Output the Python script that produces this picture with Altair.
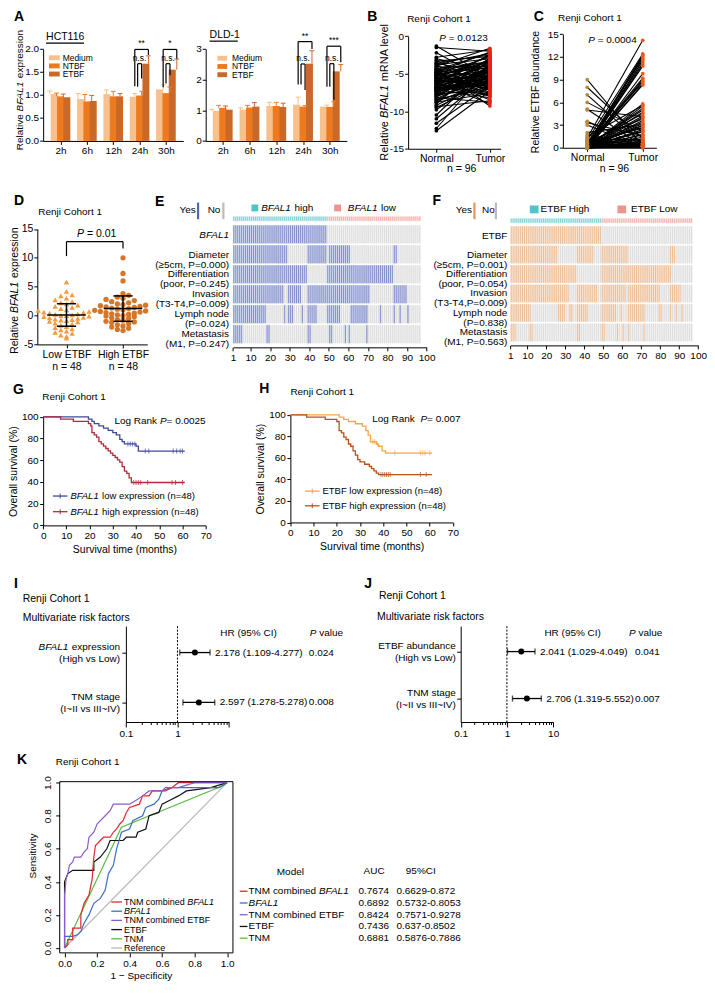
import altair as alt
import pandas as pd

FONT = "Liberation Sans"
SX, SY = 0.975, 0.98


def px(x):
    return round((x - 2.0) * SX, 2)


def py(y):
    return round((y - 2.0) * SY, 2)


W_TOT = px(712)
H_TOT = py(996)
ONE = pd.DataFrame({"z": [0]})

# ------------------------------------------------------------------ DATA
# Panel A
times = ["2h", "6h", "12h", "24h", "30h"]
groups = ["Medium", "NTBF", "ETBF"]
hct_medium = [1.02, 0.91, 1.02, 0.96, 1.12]
hct_ntbf = [0.97, 0.86, 0.97, 0.99, 1.04]
hct_etbf = [0.95, 0.87, 0.97, 1.68, 1.55]
hct_medium_err = [0.07, 0.12, 0.09, 0.07, 0.10]
hct_ntbf_err = [0.07, 0.15, 0.11, 0.09, 0.13]
hct_etbf_err = [0.07, 0.12, 0.06, 0.17, 0.23]
dld_medium = [0.98, 1.02, 1.14, 1.18, 1.12]
dld_ntbf = [1.08, 1.09, 1.14, 1.12, 1.11]
dld_etbf = [1.02, 1.12, 1.11, 2.52, 2.27]
dld_medium_err = [0.05, 0.06, 0.12, 0.25, 0.05]
dld_ntbf_err = [0.08, 0.07, 0.12, 0.03, 0.17]
dld_etbf_err = [0.12, 0.13, 0.12, 0.42, 0.22]
hct_br_time = [3, 3, 4, 4]
hct_br_pair = ["outer", "inner", "outer", "inner"]
hct_br_top = [1.99, 1.68, 1.99, 1.68]
hct_br_lbot = [1.19, 1.18, 1.17, 1.25]
hct_br_rbot = [1.87, 1.36, 1.79, 1.43]
hct_br_lab = ["**", "n.s.", "*", "n.s."]
dld_br_time = [3, 3, 4, 4]
dld_br_pair = ["outer", "inner", "outer", "inner"]
dld_br_top = [3.24, 2.51, 3.09, 2.52]
dld_br_lbot = [1.84, 1.84, 1.77, 1.77]
dld_br_rbot = [3.0, 1.66, 2.57, 1.34]
dld_br_lab = ["**", "n.s.", "***", "n.s."]

# Panel B (paired normal / tumor)
b_normal = [-1.3, -1.5, -2.2, -2.8, -3.0, -3.2, -3.5, -3.6, -3.8, -3.9, -4.0, -4.1,
            -4.2, -4.3, -4.4, -4.5, -4.6, -4.7, -4.8, -4.9, -5.0, -5.0, -5.1, -5.2,
            -5.3, -5.4, -5.5, -5.5, -5.6, -5.7, -5.8, -5.9, -6.0, -6.0, -6.1, -6.2,
            -6.3, -6.4, -6.5, -6.5, -6.6, -6.7, -6.8, -6.9, -7.0, -7.0, -7.1, -7.2,
            -7.3, -7.4, -7.5, -7.6, -7.7, -7.8, -7.9, -8.0, -8.1, -8.2, -8.3, -8.5,
            -8.6, -8.8, -9.0, -9.2, -9.5, -9.8, -10.5, -11.0, -11.6, -12.3, -12.6, -4.8,
            -5.2, -5.6, -6.2, -6.8, -7.2, -4.4, -3.3, -6.6, -7.8, -5.9, -4.6, -8.4,
            -6.0, -5.4, -7.4, -3.7, -4.9, -6.9, -5.1, -8.7, -9.4, -6.3, -5.7, -7.0]
b_tumor = [-5.5, -2.0, -6.0, -1.8, -4.5, -7.0, -2.5, -5.0, -3.0, -6.5, -1.6, -4.0,
           -7.5, -3.5, -6.0, -2.2, -5.5, -8.0, -3.8, -6.2, -4.2, -2.8, -7.2, -5.0,
           -3.3, -6.8, -4.6, -8.5, -2.6, -5.2, -7.0, -4.0, -6.4, -3.2, -5.8, -9.0,
           -4.8, -2.4, -6.6, -5.4, -3.6, -7.8, -4.4, -6.0, -3.0, -5.6, -8.2, -4.1,
           -6.3, -3.4, -5.1, -7.4, -2.9, -6.9, -4.7, -5.9, -3.9, -8.8, -5.3, -6.7,
           -4.3, -7.6, -3.1, -5.7, -6.1, -4.9, -3.7, -5.0, -6.6, -4.0, -7.3, -2.1,
           -3.5, -6.2, -8.0, -4.5, -5.5, -9.3, -2.7, -6.8, -4.2, -5.8, -3.3, -7.0,
           -5.2, -6.4, -4.6, -2.3, -7.7, -5.6, -3.9, -6.0, -8.6, -4.8, -5.4, -6.5]

# Panel C (paired ETBF abundance)
c_normal = [9.0, 8.0, 7.0, 6.0, 5.1, 5.0, 3.5, 3.3, 3.0, 2.0, 1.7, 1.5,
            1.3, 1.2, 1.0, 0.9, 0.8, 0.8, 0.7, 0.6, 0.6, 0.5, 0.5, 0.4,
            0.4, 0.4, 0.3, 0.3, 0.3, 0.3, 0.2, 0.2, 0.2, 0.2, 0.2, 0.2,
            0.1, 0.1, 0.1, 0.1, 0.1, 0.1, 0.1, 0.1, 0.1, 0.1, 0.1, 0.1,
            0.1, 0.1, 0.1, 0.1, 0.1, 0.1, 0.05, 0.05, 0.05, 0.05, 0.05, 0.05,
            0.0, 0.0, 0.0, 0.0, 0.0, 0.0, 0.0, 0.0, 0.0, 0.0, 0.0, 0.0,
            0.0, 0.0, 0.0, 0.0, 0.0, 0.0, 0.0, 0.0, 0.0, 0.0, 0.0, 0.0,
            0.6, 0.9, 1.1, 0.3, 0.2, 0.0, 0.0, 0.4, 0.1, 0.0, 0.7, 0.0]
c_tumor = [0.3, 1.2, 0.5, 2.2, 0.2, 4.1, 0.1, 1.6, 0.0, 3.1, 0.4, 5.6,
           14.2, 0.2, 12.4, 0.5, 3.8, 0.1, 2.6, 11.8, 0.3, 1.0, 4.5, 0.2,
           12.2, 0.4, 0.6, 9.2, 0.3, 2.1, 0.2, 11.2, 0.5, 1.4, 5.0, 0.1,
           12.0, 0.8, 0.3, 8.8, 1.7, 0.2, 4.2, 0.4, 11.5, 0.3, 2.9, 0.6,
           10.8, 0.2, 3.4, 0.5, 9.0, 0.1, 1.2, 5.8, 0.3, 0.7, 8.4, 0.2,
           11.0, 0.4, 2.4, 0.1, 4.7, 0.6, 8.3, 0.2, 3.0, 0.5, 12.3, 0.3,
           5.5, 0.2, 1.8, 0.4, 3.6, 0.1, 9.8, 0.3, 2.2, 0.6, 4.0, 0.2,
           8.6, 0.5, 1.1, 0.3, 5.2, 0.2, 0.9, 2.7, 0.4, 11.6, 0.1, 3.2]

# Panel D
d_low = [5.8, 4.2, 3.6, 3.4, 3.0, 2.7, 2.4, 2.2, 2.0, 1.8, 1.6, 1.4, 1.2, 1.0, 0.9, 0.7,
         0.6, 0.5, 0.4, 0.3, 0.2, 0.1, 0.0, 0.0, -0.1, -0.2, -0.3, -0.4, -0.5, -0.6, -0.7, -0.8,
         -0.9, -1.0, -1.1, -1.3, -1.5, -1.7, -1.9, -2.1, -2.3, -2.5, -2.7, -2.9, -3.1, -3.4, -3.6, -3.9]
d_high = [10.0, 7.3, 6.0, 3.8, 3.5, 3.2, 3.0, 2.8, 2.6, 2.4, 2.2, 2.0, 1.9, 1.8, 1.6, 1.5,
          1.4, 1.3, 1.2, 1.1, 1.0, 0.9, 0.8, 0.7, 0.6, 0.5, 0.4, 0.3, 0.2, 0.1, 0.0, -0.1,
          -0.2, -0.4, -0.5, -0.7, -0.8, -1.0, -1.1, -1.2, -1.4, -1.6, -1.8, -2.0, -2.2, -2.4, -2.6, 1.7]
d_mean = [0.1, 1.2]
d_sd = [1.95, 2.2]

# Panel E / F (runs of "Yes" columns per clinical feature)
e_rows = ["BFAL1", "Diameter", "Differentiation", "Invasion", "Lymph node", "Metastasis"]
e_labels = ["BFAL1", "Diameter\n(\u22655cm, P=0.000)", "Differentiation\n(poor, P=0.245)",
            "Invasion\n(T3-T4,P=0.009)", "Lymph node\n(P=0.024)", "Metastasis\n(M1, P=0.247)"]
e_bfal1_yes = [(1, 48)]
e_diameter_yes = [(1, 28), (39, 48), (50, 60), (83, 84)]
e_diff_yes = [(1, 38), (49, 82)]
e_invasion_yes = [(1, 26), (29, 35), (39, 48), (49, 70), (83, 89)]
e_lymph_yes = [(1, 17), (27, 27), (29, 31), (36, 36), (39, 43), (49, 55), (61, 69), (76, 76),
               (83, 83), (86, 86), (90, 90)]
e_meta_yes = [(1, 5), (18, 19), (39, 40), (50, 51), (58, 58), (60, 60), (69, 69)]
f_rows = ["ETBF", "Diameter", "Differentiation", "Invasion", "Lymph node", "Metastasis"]
f_labels = ["ETBF", "Diameter\n(\u22655cm, P=0.001)", "Differentiation\n(poor, P=0.054)",
            "Invasion\n(T3-T4,P=0.009)", "Lymph node\n(P=0.838)", "Metastasis\n(M1, P=0.563)"]
f_etbf_yes = [(1, 48)]
f_diameter_yes = [(1, 25), (36, 44), (49, 62), (85, 87)]
f_diff_yes = [(1, 35), (49, 85)]
f_invasion_yes = [(1, 31), (36, 46), (49, 61), (63, 79), (85, 90)]
f_lymph_yes = [(1, 11), (26, 29), (32, 33), (36, 41), (49, 56), (59, 59), (63, 71), (79, 80),
               (85, 85), (88, 88), (91, 91)]
f_meta_yes = [(1, 3), (11, 12), (36, 37), (49, 50), (57, 57), (60, 60), (63, 63), (71, 71)]
n_patients = 96
n_high = 48

# Panel G / H (Kaplan-Meier)
g_low_t = [0, 19.5, 21, 22, 24, 26, 28, 30, 31.5, 33, 34, 35, 40, 41, 61]
g_low_s = [100, 97.9, 95.8, 93.8, 91.7, 89.6, 87.5, 85.4, 83.3, 79.2, 77.1, 75.0, 72.9, 68.4, 68.4]
g_high_t = [0, 7.5, 13, 19.5, 20.5, 21, 22, 23, 24, 25, 26, 27, 28, 29, 30, 31, 32, 33, 34, 35, 36, 37, 38, 61]
g_high_s = [100, 97.9, 95.8, 93.8, 91.7, 85.4, 83.3, 81.2, 77.1, 75.0, 72.9, 70.8, 68.7, 66.6, 64.5,
            62.5, 60.4, 58.3, 54.1, 50.0, 47.9, 43.7, 39.5, 39.5]
g_low_cens_t = [36.5, 37.5, 38.5, 39.5, 44, 45.5, 56, 57.5, 59, 60]
g_low_cens_s = [75.0, 75.0, 75.0, 75.0, 68.4, 68.4, 68.4, 68.4, 68.4, 68.4]
g_high_cens_t = [39, 40, 41, 42, 45, 55.5, 57, 60]
g_high_cens_s = [39.5, 39.5, 39.5, 39.5, 39.5, 39.5, 39.5, 39.5]
h_low_t = [0, 21, 23, 25, 28, 31, 32.5, 33.5, 34.5, 37, 38, 39.5, 41, 61]
h_low_s = [100, 97.9, 95.8, 93.8, 91.7, 89.6, 85.4, 81.2, 75.0, 72.9, 70.8, 66.6, 64.5, 64.5]
h_high_t = [0, 7, 15, 20, 21, 22, 23, 24, 25, 26, 27, 28, 29, 30, 32, 34, 35, 36, 37, 38, 61]
h_high_s = [100, 97.9, 95.8, 93.8, 85.4, 83.3, 79.2, 77.1, 72.9, 70.8, 66.6, 62.5, 58.3, 56.2,
            54.1, 52.0, 50.0, 47.9, 45.8, 44.5, 44.5]
h_low_cens_t = [35.5, 36.2, 37.5, 45, 56, 57, 58, 60]
h_low_cens_s = [75.0, 75.0, 72.9, 64.5, 64.5, 64.5, 64.5, 64.5]
h_high_cens_t = [39, 39.8, 40.6, 41.4, 42.2, 43, 56, 58.5]
h_high_cens_s = [44.5, 44.5, 44.5, 44.5, 44.5, 44.5, 44.5, 44.5]

# Panel I / J (multivariate Cox)
i_rows = ["BFAL1 expression", "TNM stage"]
i_hr = [2.178, 2.597]
i_lo = [1.109, 1.278]
i_hi = [4.277, 5.278]
i_txt = ["2.178 (1.109-4.277)", "2.597 (1.278-5.278)"]
i_p = ["0.024", "0.008"]
j_rows = ["ETBF abundance", "TNM stage"]
j_hr = [2.041, 2.706]
j_lo = [1.029, 1.319]
j_hi = [4.049, 5.552]
j_txt = ["2.041  (1.029-4.049)", "2.706 (1.319-5.552)"]
j_p = ["0.041", "0.007"]

# Panel K (ROC)
roc_models = ["Reference", "TNM", "ETBF", "BFAL1", "TNM combined BFAL1", "TNM combined ETBF"]
roc_red_fpr = [0, 0.02, 0.02, 0.05, 0.05, 0.1, 0.1, 0.12, 0.15, 0.17, 0.18, 0.19, 0.22, 0.24, 0.28,
               0.3, 0.32, 0.34, 0.36, 0.38, 0.4, 0.46, 0.48, 0.52, 0.54, 0.62, 0.66, 0.7, 1.0]
roc_red_tpr = [0, 0.02, 0.05, 0.05, 0.12, 0.12, 0.2, 0.27, 0.32, 0.42, 0.55, 0.62, 0.65, 0.67, 0.67,
               0.7, 0.72, 0.75, 0.77, 0.82, 0.85, 0.87, 0.92, 0.92, 0.95, 0.95, 0.97, 1.0, 1.0]
roc_blue_fpr = [0, 0, 0.05, 0.08, 0.1, 0.12, 0.15, 0.18, 0.22, 0.25, 0.27, 0.3, 0.32, 0.35, 0.4, 0.42,
                0.48, 0.5, 0.55, 0.58, 0.6, 0.65, 0.95, 1.0]
roc_blue_tpr = [0, 0.07, 0.07, 0.08, 0.1, 0.15, 0.2, 0.27, 0.3, 0.35, 0.45, 0.5, 0.6, 0.7, 0.72, 0.77,
                0.8, 0.85, 0.87, 0.9, 0.95, 0.97, 0.97, 1.0]
roc_purple_fpr = [0, 0, 0.01, 0.02, 0.03, 0.05, 0.06, 0.1, 0.12, 0.14, 0.15, 0.18, 0.2, 0.22, 0.25,
                  0.28, 0.3, 0.4, 0.45, 0.48, 0.52, 0.6, 0.62, 0.7, 0.8, 1.0]
roc_purple_tpr = [0, 0.32, 0.42, 0.45, 0.5, 0.52, 0.55, 0.55, 0.58, 0.6, 0.67, 0.7, 0.75, 0.77, 0.8,
                  0.83, 0.87, 0.87, 0.9, 0.92, 0.95, 0.95, 0.97, 0.97, 1.0, 1.0]
roc_black_fpr = [0, 0, 0.02, 0.05, 0.18, 0.18, 0.22, 0.26, 0.28, 0.36, 0.38, 0.44, 0.45, 0.5, 0.52,
                 0.58, 0.6, 0.66, 0.7, 0.75, 0.9, 1.0]
roc_black_tpr = [0, 0.4, 0.45, 0.47, 0.47, 0.52, 0.55, 0.6, 0.65, 0.65, 0.67, 0.67, 0.7, 0.72, 0.8,
                 0.82, 0.87, 0.9, 0.92, 0.95, 0.97, 1.0]
roc_green_fpr = [0, 0.35, 0.97, 1.0]
roc_green_tpr = [0, 0.73, 0.98, 1.0]
roc_ref_fpr = [0, 1]
roc_ref_tpr = [0, 1]
auc_models = ["TNM combined BFAL1", "BFAL1", "TNM combined ETBF", "ETBF", "TNM"]
auc_values = ["0.7674", "0.6892", "0.8424", "0.7436", "0.6881"]
auc_ci = ["0.6629-0.872", "0.5732-0.8053", "0.7571-0.9278", "0.637-0.8502", "0.5876-0.7886"]

# ------------------------------------------------------------------ HELPERS
_W = {c: 556 for c in "0123456789"}
_W.update({" ": 278, "!": 278, "(": 333, ")": 333, ",": 278, "-": 333, ".": 278, "/": 278,
           ":": 278, "=": 584, "%": 889, "~": 584, "\u2265": 549, "*": 389, "\u2212": 584})
_W.update(dict(A=667, B=667, C=722, D=722, E=667, F=611, G=778, H=722, I=278, J=500, K=667, L=556,
               M=833, N=722, O=778, P=667, Q=778, R=722, S=667, T=611, U=722, V=667, W=944, X=667,
               Y=667, Z=611))
_W.update(dict(a=556, b=556, c=500, d=556, e=556, f=278, g=556, h=556, i=222, j=222, k=500, l=222,
               m=833, n=556, o=556, p=556, q=556, r=333, s=500, t=278, u=556, v=500, w=722, x=500,
               y=500, z=500))


def tw(s, size):
    return sum(_W.get(c, 556) for c in s) * size / 1000.0


def T(s, x, y, size=10, align="left", baseline="middle", italic=False, bold=False, angle=None,
      color="black"):
    kw = dict(text=s, align=align, baseline=baseline, fontSize=size, font=FONT, color=color)
    if italic:
        kw["fontStyle"] = "italic"
    if bold:
        kw["fontWeight"] = "bold"
    if angle is not None:
        kw["angle"] = angle
    return alt.Chart(ONE).mark_text(**kw).encode(x=alt.value(px(x)), y=alt.value(py(y)))


def RT(parts, x, y, size=10, align="left", baseline="middle", vertical=False):
    total = sum(tw(s, size) for s, _ in parts)
    pos = {"left": 0.0, "center": -total / 2.0, "right": -total}[align]
    out = []
    for s, it in parts:
        lead = len(s) - len(s.lstrip(" "))
        body = s.strip(" ")
        o = pos + tw(" " * lead, size)
        if body:
            if vertical:
                out.append(T(body, x, y - o / SY, size, "left", baseline, it, angle=270))
            else:
                out.append(T(body, x + o / SX, y, size, "left", baseline, it))
        pos += tw(s, size)
    return out


def RL(x1, y1, x2, y2, color="black", w=1.0, dash=None):
    kw = dict(color=color, strokeWidth=w)
    if dash:
        kw["strokeDash"] = dash
    return alt.Chart(ONE).mark_rule(**kw).encode(
        x=alt.value(px(x1)), y=alt.value(py(y1)), x2=alt.value(px(x2)), y2=alt.value(py(y2)))


def BX(x1, y1, x2, y2, fill=None, stroke="black", w=1.0):
    if fill is not None:
        m = alt.Chart(ONE).mark_rect(color=fill)
    else:
        m = alt.Chart(ONE).mark_rect(filled=False, stroke=stroke, strokeWidth=w)
    return m.encode(x=alt.value(px(x1)), x2=alt.value(px(x2)), y=alt.value(py(y1)), y2=alt.value(py(y2)))


def AX_L(xref, **kw):
    kw.setdefault("title", None)
    return alt.Axis(orient="left", offset=-px(xref), **kw)


def AX_B(yref, **kw):
    kw.setdefault("title", None)
    return alt.Axis(orient="bottom", offset=round(py(yref) - H_TOT, 2), **kw)


def SXc(domain, x0, x1):
    return alt.Scale(domain=domain, range=[px(x0), px(x1)], nice=False, zero=False)


def SYc(domain, yb, yt):
    return alt.Scale(domain=domain, range=[py(yb), py(yt)], nice=False, zero=False)


LAYERS = []


def add(*items):
    for it in items:
        if isinstance(it, list):
            LAYERS.extend(it)
        else:
            LAYERS.append(it)


# ------------------------------------------------------------------ PANEL A
OFF = {"Medium": -0.24, "NTBF": 0.0, "ETBF": 0.24}
GCOL = ["#F7C08C", "#EE7A20", "#C8692A"]


def bar_panel(means, errs, br, x0, x1, dom, ymax, yvals, yfmt):
    recs = []
    for g, m, e in zip(groups, means, errs):
        for i in range(len(times)):
            xp = i + OFF[g]
            recs.append(dict(group=g, xp=xp, mean=m[i], top=m[i] + e[i], cl=xp - 0.085, cr=xp + 0.085))
    df = pd.DataFrame(recs)
    xsc = SXc(dom, x0, x1)
    ysc = SYc([0, ymax], 137, 43)
    col = alt.Color("group:N", scale=alt.Scale(domain=groups, range=GCOL), legend=None)
    bars = alt.Chart(df).mark_bar(size=7).encode(
        x=alt.X("xp:Q", scale=xsc, axis=AX_B(137, values=[0, 1, 2, 3, 4],
                                              labelExpr="['2h','6h','12h','24h','30h'][datum.value]")),
        y=alt.Y("mean:Q", scale=ysc, axis=AX_L(x0, values=yvals, format=yfmt, labelPadding=1)),
        color=col)
    err = alt.Chart(df).mark_rule(strokeWidth=1).encode(
        x=alt.X("xp:Q", scale=xsc, axis=None), y=alt.Y("mean:Q", scale=ysc, axis=None), y2="top:Q", color=col)
    cap = alt.Chart(df).mark_rule(strokeWidth=1).encode(
        x=alt.X("cl:Q", scale=xsc, axis=None), x2="cr:Q", y=alt.Y("top:Q", scale=ysc, axis=None), color=col)
    segs, labs = [], []
    for t, pair, top, lb, rb, lab in zip(*br):
        if pair == "outer":
            xl, xr = t + OFF["Medium"], t + OFF["ETBF"]
        else:
            xl, xr = t + OFF["Medium"] + 0.1, t + OFF["NTBF"]
        segs += [dict(x=xl, x2=xr, y=top, y2=top), dict(x=xl, x2=xl, y=lb, y2=top),
                 dict(x=xr, x2=xr, y=rb, y2=top)]
        labs.append(dict(x=(xl + xr) / 2.0, y=top, lab=lab))
    brr = alt.Chart(pd.DataFrame(segs)).mark_rule(color="black", strokeWidth=1.2).encode(
        x=alt.X("x:Q", scale=xsc, axis=None), x2="x2:Q", y=alt.Y("y:Q", scale=ysc, axis=None), y2="y2:Q")
    brt = alt.Chart(pd.DataFrame(labs)).mark_text(baseline="bottom", dy=-1, fontSize=8.5, font=FONT).encode(
        x=alt.X("x:Q", scale=xsc, axis=None), y=alt.Y("y:Q", scale=ysc, axis=None), text="lab:N")
    return [bars, err, cap, brr, brt]


add(bar_panel([hct_medium, hct_ntbf, hct_etbf], [hct_medium_err, hct_ntbf_err, hct_etbf_err],
              (hct_br_time, hct_br_pair, hct_br_top, hct_br_lbot, hct_br_rbot, hct_br_lab),
              33, 177, [-0.47, 4.47], 2.0, [0, 0.5, 1, 1.5, 2], ".1f"))
add(bar_panel([dld_medium, dld_ntbf, dld_etbf], [dld_medium_err, dld_ntbf_err, dld_etbf_err],
              (dld_br_time, dld_br_pair, dld_br_top, dld_br_lbot, dld_br_rbot, dld_br_lab),
              200, 345, [-0.45, 4.45], 3.0, [0, 1, 2, 3], "d"))
add(T("A", 3, 10, 14, bold=True))
add(RT([("Relative ", False), ("BFAL1", True), (" expression", False)], 9, 85, 10, "center",
       vertical=True))
add(T("HCT116", 36, 31, 10.5), RL(36, 37, 75, 37, w=1.2))
add(T("DLD-1", 204, 29, 10.5), RL(204, 35, 233, 35, w=1.2))
for i, (g, c) in enumerate(zip(groups, GCOL)):
    add(BX(39, 49.5 + 8.3 * i, 50, 54.5 + 8.3 * i, fill=c), T(g, 53, 52 + 8.3 * i, 8.5))
    add(BX(212, 50 + 8.4 * i, 222, 55 + 8.4 * i, fill=c), T(g, 227, 52.5 + 8.4 * i, 8.5))


# ------------------------------------------------------------------ PANEL B / C
def paired_panel(nv, tv, x0, x1, dom, ydom, yb, yt, yvals, ncol, tcol):
    recs = []
    for i, (a, b) in enumerate(zip(nv, tv)):
        recs.append(dict(pid=i, c=0, g="Normal", v=a))
        recs.append(dict(pid=i, c=1, g="Tumor", v=b))
    df = pd.DataFrame(recs)
    xsc = SXc(dom, x0, x1)
    ysc = SYc(ydom, yb, yt)
    lines = alt.Chart(df).mark_line(color="black", strokeWidth=1.1).encode(
        x=alt.X("c:Q", scale=xsc, axis=AX_B(yb, values=[0, 1], labelFontSize=10.5,
                                             labelExpr="datum.value == 0 ? 'Normal' : 'Tumor'")),
        y=alt.Y("v:Q", scale=ysc, axis=AX_L(x0, values=yvals, labelExpr="'' + datum.value", labelPadding=1)),
        detail="pid:N")
    pts = alt.Chart(df).mark_circle(size=14, opacity=1).encode(
        x=alt.X("c:Q", scale=xsc, axis=None), y=alt.Y("v:Q", scale=ysc, axis=None),
        color=alt.Color("g:N", scale=alt.Scale(domain=["Normal", "Tumor"], range=[ncol, tcol]), legend=None))
    return [lines, pts]


add(paired_panel(b_normal, b_tumor, 408, 503, [-0.527, 1.2], [-15, 0], 145, 30, [0, -5, -10, -15],
                 "black", "#E3241B"))
add(T("B", 366, 10, 14, bold=True), T("Renji Cohort 1", 407, 12, 10))
add(RT([("P", True), (" = 0.0123", False)], 440, 32, 10))
add(T("n = 96", 463, 166, 10.5, "center"))
add(RT([("Relative ", False), ("BFAL1", True), (" mRNA level", False)], 384, 87, 11, "center", vertical=True))

add(paired_panel(c_normal, c_tumor, 567, 663, [-0.438, 1.245], [0, 15], 144, 28, [0, 3, 6, 9, 12, 15],
                 "#B8893E", "#EA5A1E"))
add(T("C", 537, 10, 14, bold=True), T("Renji Cohort 1", 562, 11, 10))
add(RT([("P", True), (" = 0.0004", False)], 593, 34, 10))
add(T("n = 96", 620, 166, 10.5, "center"))
add(T("Relative ETBF abundance", 539, 87, 10.5, "center", angle=270))

# ------------------------------------------------------------------ PANEL D
d_df = pd.DataFrame({"grp": ["Low"] * len(d_low) + ["High"] * len(d_high),
                     "gi": [0] * len(d_low) + [1] * len(d_high),
                     "v": d_low + d_high})
dxs = SXc([-0.516, 1.43], 27, 140)
dys = SYc([-5, 15], 345, 227)
d_base = (alt.Chart(d_df)
          .transform_calculate(b="floor(datum.v / 0.95)")
          .transform_window(k="row_number()", groupby=["grp", "b"], sort=[alt.SortField("v")])
          .transform_calculate(xp="datum.gi + ((datum.k - 1) % 2 == 0 ? 1 : -1) * ceil((datum.k - 1) / 2) * 0.1"))
d_tri = d_base.transform_filter("datum.grp == 'Low'").mark_point(
    shape="triangle-up", filled=True, size=30, color="#F29B3F", opacity=1).encode(
    x=alt.X("xp:Q", scale=dxs, axis=AX_B(345, values=[0, 1], labelLineHeight=12, labelFontSize=10.5,
                                          labelExpr="datum.value == 0 ? ['Low ETBF', 'n = 48'] : ['High ETBF', 'n = 48']")),
    y=alt.Y("v:Q", scale=dys, axis=AX_L(27, values=[-5, 0, 5, 10, 15], labelFontSize=10.5, labelPadding=1,
                                         labelExpr="'' + datum.value")))
d_cir = d_base.transform_filter("datum.grp == 'High'").mark_circle(size=28, color="#D4772B", opacity=1).encode(
    x=alt.X("xp:Q", scale=dxs, axis=None), y=alt.Y("v:Q", scale=dys, axis=None))
d_sum = pd.DataFrame({"gi": [0, 1], "m": d_mean, "sd": d_sd})
d_sb = alt.Chart(d_sum).transform_calculate(
    lo="datum.m - datum.sd", hi="datum.m + datum.sd", ml="datum.gi - 0.34", mr="datum.gi + 0.34",
    sl="datum.gi - 0.17", sr="datum.gi + 0.17")
d_mean_l = d_sb.mark_rule(color="black", strokeWidth=1.5).encode(
    x=alt.X("ml:Q", scale=dxs, axis=None), x2="mr:Q", y=alt.Y("m:Q", scale=dys, axis=None))
d_lo_l = d_sb.mark_rule(color="black", strokeWidth=1.5).encode(
    x=alt.X("sl:Q", scale=dxs, axis=None), x2="sr:Q", y=alt.Y("lo:Q", scale=dys, axis=None))
d_hi_l = d_sb.mark_rule(color="black", strokeWidth=1.5).encode(
    x=alt.X("sl:Q", scale=dxs, axis=None), x2="sr:Q", y=alt.Y("hi:Q", scale=dys, axis=None))
d_v_l = d_sb.mark_rule(color="black", strokeWidth=1.5).encode(
    x=alt.X("gi:Q", scale=dxs, axis=None), y=alt.Y("lo:Q", scale=dys, axis=None), y2="hi:Q")
d_br = pd.DataFrame({"x": [0, 0, 1], "x2": [1, 0, 1], "y": [12.8, 10.3, 11.6], "y2": [12.8, 12.8, 12.8]})
d_brl = alt.Chart(d_br).mark_rule(color="black", strokeWidth=1.2).encode(
    x=alt.X("x:Q", scale=dxs, axis=None), x2="x2:Q", y=alt.Y("y:Q", scale=dys, axis=None), y2="y2:Q")
add([d_tri, d_cir, d_mean_l, d_lo_l, d_hi_l, d_v_l, d_brl])
add(T("D", 3, 198, 14, bold=True), T("Renji Cohort 1", 28, 210, 10))
add(RT([("P", True), (" = 0.01", False)], 88, 232, 10.5, "center"))
add(RT([("Relative ", False), ("BFAL1", True), (" expression", False)], 4, 290, 10.5, "center", vertical=True))


# ------------------------------------------------------------------ PANEL E / F
def heat_panel(rows, labels, runs, yescol, x1r, x100r, ytop, ybot, axis_y, lab_x, italic_first,
               band_y, band_cols):
    recs = []
    for r, rr in zip(rows, runs):
        for c in range(1, n_patients + 1):
            yes = any(a <= c <= b for a, b in rr)
            recs.append(dict(row=r, c=c, c2=c + 1, v="Yes" if yes else "No"))
    df = pd.DataFrame(recs)
    xsc = SXc([1, 100], x1r, x100r)
    ysc = alt.Scale(domain=rows, range=[py(ytop), py(ybot)], paddingInner=0.07, paddingOuter=0.0)
    heat = alt.Chart(df).mark_rect(stroke="white", strokeWidth=0.45).encode(
        x=alt.X("c:Q", scale=xsc, axis=AX_B(axis_y, values=[1, 10, 20, 30, 40, 50, 60, 70, 80, 90, 100])),
        x2="c2:Q",
        y=alt.Y("row:N", scale=ysc, axis=None),
        color=alt.Color("v:N", scale=alt.Scale(domain=["Yes", "No"], range=[yescol, "#DCDCDC"]), legend=None))
    ldf = pd.DataFrame(dict(row=rows, lab=labels))
    labs_rest = alt.Chart(ldf).transform_filter(f"datum.row != '{rows[0]}'").mark_text(
        align="right", baseline="middle", lineBreak="\n", lineHeight=10, fontSize=10, font=FONT).encode(
        x=alt.value(px(lab_x)), y=alt.Y("row:N", scale=ysc, axis=None), text="lab:N")
    labs_first = alt.Chart(ldf).transform_filter(f"datum.row == '{rows[0]}'").mark_text(
        align="right", baseline="middle", fontSize=10, font=FONT,
        fontStyle="italic" if italic_first else "normal").encode(
        x=alt.value(px(lab_x)), y=alt.Y("row:N", scale=ysc, axis=None), text="lab:N")
    bdf = pd.DataFrame(dict(c=list(range(1, n_patients + 1)), c2=list(range(2, n_patients + 2)),
                            g=["high"] * n_high + ["low"] * (n_patients - n_high)))
    band = alt.Chart(bdf).mark_rect(stroke="white", strokeWidth=0.45).encode(
        x=alt.X("c:Q", scale=xsc, axis=None), x2="c2:Q",
        y=alt.value(py(band_y[0])), y2=alt.value(py(band_y[1])),
        color=alt.Color("g:N", scale=alt.Scale(domain=["high", "low"], range=band_cols), legend=None))
    return [heat, labs_rest, labs_first, band]


E_BLUE = "#7F8DCC"
F_ORANGE = "#EDBA8F"
TEAL, PINK = "#4FC3CB", "#EE948F"
add(heat_panel(e_rows, e_labels, [e_bfal1_yes, e_diameter_yes, e_diff_yes, e_invasion_yes, e_lymph_yes, e_meta_yes],
               E_BLUE, 228, 427, 223, 344, 348, 224, True, (214, 219), ["#7DD0D6", "#F3B0AC"]))
add(heat_panel(f_rows, f_labels, [f_etbf_yes, f_diameter_yes, f_diff_yes, f_invasion_yes, f_lymph_yes, f_meta_yes],
               F_ORANGE, 513, 706, 224, 342, 346, 510, False, (216, 221), ["#7DD0D6", "#F3B0AC"]))
add(T("E", 148, 199, 14, bold=True), T("F", 433, 198, 14, bold=True))
add(T("Yes", 173, 208, 10), BX(191, 200, 193.3, 217, fill="#5566B8"),
    T("No", 202, 208, 10), BX(217, 200, 219.3, 217, fill="#BDBDBD"))
add(BX(247, 202, 254, 209, fill=TEAL), RT([("BFAL1", True), (" high", False)], 257, 206, 10))
add(BX(332, 202, 339, 209, fill=PINK), RT([("BFAL1", True), (" low", False)], 346, 206, 10))
add(T("Yes", 457, 208, 10), BX(475, 200, 477.3, 217, fill="#E09A5E"),
    T("No", 484, 208, 10), BX(497, 200, 499.3, 217, fill="#BDBDBD"))
add(BX(533, 203, 542, 211, fill=TEAL), T("ETBF High", 544, 207, 10))
add(BX(623, 203, 632, 211, fill=PINK), T("ETBF Low", 637, 207, 10))


# ------------------------------------------------------------------ PANEL G / H
def km_panel(curves, cens, names, colors, x0, x1, yb, yt):
    recs = []
    for nm, (ts, ss) in zip(names, curves):
        for i, (t, s) in enumerate(zip(ts, ss)):
            recs.append(dict(curve=nm, i=i, t=t, s=s))
    crecs = [dict(curve=nm, t=t, s=s) for nm, (ts, ss) in zip(names, cens) for t, s in zip(ts, ss)]
    xsc = SXc([0, 70], x0, x1)
    ysc = SYc([0, 100], yb, yt)
    col = alt.Color("curve:N", scale=alt.Scale(domain=names, range=colors), legend=None)
    line = alt.Chart(pd.DataFrame(recs)).mark_line(interpolate="step-after", strokeWidth=1.3).encode(
        x=alt.X("t:Q", scale=xsc, axis=AX_B(yb, values=list(range(0, 71, 10)),
                                             title="Survival time (months)", titlePadding=4)),
        y=alt.Y("s:Q", scale=ysc, axis=AX_L(x0, values=list(range(0, 101, 20)),
                                             title="Overall survival (%)", titlePadding=3)),
        color=col, order="i:Q")
    tick = alt.Chart(pd.DataFrame(crecs)).mark_tick(orient="vertical", size=5, thickness=1).encode(
        x=alt.X("t:Q", scale=xsc, axis=None), y=alt.Y("s:Q", scale=ysc, axis=None), color=col)
    return [line, tick]


G_BLUE, G_RED = "#3B4B9E", "#B3293A"
H_LOW, H_HIGH = "#F5A64C", "#B5521C"
add(km_panel([(g_low_t, g_low_s), (g_high_t, g_high_s)],
             [(g_low_cens_t, g_low_cens_s), (g_high_cens_t, g_high_cens_s)],
             ["low", "high"], [G_BLUE, G_RED], 33, 200, 530, 419))
add(km_panel([(h_low_t, h_low_s), (h_high_t, h_high_s)],
             [(h_low_cens_t, h_low_cens_s), (h_high_cens_t, h_high_cens_s)],
             ["low", "high"], [H_LOW, H_HIGH], 287, 454, 527, 417))
add(T("G", 2, 392, 14, bold=True), T("Renji Cohort 1", 32, 399, 10))
add(T("H", 255, 391, 14, bold=True), T("Renji Cohort 1", 287, 394, 10))
add(RT([("Log Rank ", False), ("P", True), ("= 0.0025", False)], 200, 423, 10, "right"))
add(RT([("Log Rank  ", False), ("P", True), ("= 0.007", False)], 462, 421, 10, "right"))
for yy, col, parts in [(500, G_BLUE, [("BFAL1", True), (" low  expression (n=48)", False)]),
                       (516, G_RED, [("BFAL1", True), (" high expression (n=48)", False)])]:
    add(RL(43, yy, 58, yy, color=col, w=1.3), RL(50.5, yy - 2.5, 50.5, yy + 2.5, color=col))
    add(RT(parts, 61, yy, 9.5))
for yy, col, s in [(495, H_LOW, "ETBF low  expression (n=48)"), (510, H_HIGH, "ETBF high expression (n=48)")]:
    add(RL(302, yy, 317, yy, color=col, w=1.3), RL(309.5, yy - 2.5, 309.5, yy + 2.5, color=col))
    add(T(s, 320, yy, 9.5))


# ------------------------------------------------------------------ PANEL I / J
MINOR = [0.2, 0.3, 0.4, 0.5, 0.6, 0.7, 0.8, 0.9, 2, 3, 4, 5, 6, 7, 8, 9]


def forest_panel(rows, hr, lo, hi, txt, pv, x01, x10, yt, yb, pad, al, show10, pvx):
    df = pd.DataFrame(dict(row=rows, hr=hr, lo=lo, hi=hi, t=txt, p=pv))
    xsc = alt.Scale(type="log", domain=[0.1, 10], range=[px(x01), px(x10)], nice=False)
    ysc = alt.Scale(type="point", domain=rows, range=[py(yt), py(yb)], padding=pad, align=al)
    lab = "datum.label" if show10 else "datum.value >= 10 ? '' : datum.label"
    ci = alt.Chart(df).mark_rule(strokeWidth=1.3, color="black").encode(
        x=alt.X("lo:Q", scale=xsc, axis=AX_B(yb, values=[0.1, 1, 10], labelExpr=lab, tickSize=5)),
        x2="hi:Q",
        y=alt.Y("row:N", scale=ysc, axis=AX_L(x01, labels=False, tickSize=4)))
    capl = alt.Chart(df).mark_tick(orient="vertical", size=6, thickness=1.3, color="black").encode(
        x=alt.X("lo:Q", scale=xsc, axis=None), y=alt.Y("row:N", scale=ysc, axis=None))
    caph = alt.Chart(df).mark_tick(orient="vertical", size=6, thickness=1.3, color="black").encode(
        x=alt.X("hi:Q", scale=xsc, axis=None), y=alt.Y("row:N", scale=ysc, axis=None))
    pt = alt.Chart(df).mark_circle(size=36, color="black", opacity=1).encode(
        x=alt.X("hr:Q", scale=xsc, axis=None), y=alt.Y("row:N", scale=ysc, axis=None))
    ref = alt.Chart(pd.DataFrame({"r": [1.0]})).mark_rule(strokeDash=[2, 1.5], strokeWidth=1, color="black").encode(
        x=alt.X("r:Q", scale=xsc, axis=None), y=alt.value(py(yt)), y2=alt.value(py(yb)))
    t1 = alt.Chart(df).mark_text(align="left", dx=5, fontSize=10, font=FONT).encode(
        x=alt.X("hi:Q", scale=xsc, axis=None), y=alt.Y("row:N", scale=ysc, axis=None), text="t:N")
    t2 = alt.Chart(df).mark_text(align="left", fontSize=10, font=FONT).encode(
        x=alt.value(px(pvx)), y=alt.Y("row:N", scale=ysc, axis=None), text="p:N")
    minor = alt.Chart(pd.DataFrame({"r": [1.0]})).mark_point(opacity=0).encode(
        x=alt.X("r:Q", scale=xsc, axis=AX_B(yb, values=MINOR, labels=False, domain=False, tickSize=2.5)))
    return [ci, capl, caph, pt, ref, t1, t2, minor]


add(forest_panel(i_rows, i_hr, i_lo, i_hi, i_txt, i_p, 118, 224, 633, 731, 0.4608, 0.5745, False, 306))
add(forest_panel(j_rows, j_hr, j_lo, j_hi, j_txt, j_p, 462, 557, 633, 731, 0.5208, 0.52, True, 641))
add(T("I", 3, 590, 14, bold=True), T("Renji Cohort 1", 12, 605, 10.5), T("Multivariate risk factors", 12, 625, 10.5))
add(T("HR  (95% CI)", 215, 640, 10), RT([("P", True), (" value", False)], 307, 640, 10))
add(RT([("BFAL1", True), (" expression", False)], 112, 654, 10, "right"),
    T("(High vs Low)", 112, 667, 10, "right"),
    T("TNM stage", 112, 705, 10, "right"), T("(I~II vs III~IV)", 112, 718, 10, "right"))
add(T("J", 363, 590, 14, bold=True), T("Renji Cohort 1", 378, 602, 10.5), T("Multivariate risk factors", 376, 624, 10.5))
add(T("HR  (95% CI)", 548, 640, 10), RT([("P", True), (" value", False)], 635, 640, 10))
add(T("ETBF abundance", 457, 653, 10, "right"), T("(High vs Low)", 457, 666, 10, "right"),
    T("TNM stage", 457, 701, 10, "right"), T("(I~II vs III~IV)", 457, 714, 10, "right"))

# ------------------------------------------------------------------ PANEL K
ROC_COL = {"Reference": "#B8B8B8", "TNM": "#5DBB46", "ETBF": "#111111", "BFAL1": "#3B6FC5",
           "TNM combined BFAL1": "#E0282E", "TNM combined ETBF": "#8C5CC8"}
roc_data = {"Reference": (roc_ref_fpr, roc_ref_tpr), "TNM": (roc_green_fpr, roc_green_tpr),
            "ETBF": (roc_black_fpr, roc_black_tpr), "BFAL1": (roc_blue_fpr, roc_blue_tpr),
            "TNM combined BFAL1": (roc_red_fpr, roc_red_tpr),
            "TNM combined ETBF": (roc_purple_fpr, roc_purple_tpr)}
krec = []
for m in roc_models:
    f, s = roc_data[m]
    for i, (a, b) in enumerate(zip(f, s)):
        krec.append(dict(m=m, i=i, f=a, s=b))
kxs = SXc([0, 1], 55, 222)
kys = SYc([0, 1], 962, 793)
k_ticks = [0, 0.2, 0.4, 0.6, 0.8, 1.0]
k_lines = alt.Chart(pd.DataFrame(krec)).mark_line(strokeWidth=1.2).encode(
    x=alt.X("f:Q", scale=kxs, axis=AX_B(967, values=k_ticks, format=".1f", domain=False, tickSize=4,
                                         labelPadding=2)),
    y=alt.Y("s:Q", scale=kys, axis=AX_L(50, values=k_ticks, format=".1f", domain=False, labelAngle=270,
                                         labelAlign="center", labelBaseline="bottom", labelPadding=3,
                                         tickSize=4)),
    color=alt.Color("m:N", scale=alt.Scale(domain=roc_models, range=[ROC_COL[m] for m in roc_models]),
                    legend=None),
    detail="m:N", order="i:Q")
add(k_lines, BX(50, 792, 228, 967, stroke="black", w=1))
add(T("K", 6, 770, 14, bold=True), T("Renji Cohort 1", 46, 772, 10))
add(T("1 \u2212 Specificity", 134, 991, 10, "center"), T("Sensitivity", 23, 868, 10, "center", angle=270))
leg_items = [("TNM combined BFAL1", [("TNM combined ", False), ("BFAL1", True)]),
             ("BFAL1", [("BFAL1", True)]),
             ("TNM combined ETBF", [("TNM combined ETBF", False)]),
             ("ETBF", [("ETBF", False)]),
             ("TNM", [("TNM", False)]),
             ("Reference", [("Reference", False)])]
for i, (m, parts) in enumerate(leg_items):
    yy = 915 + 9.4 * i
    add(RL(103, yy, 114, yy, color=ROC_COL[m], w=1.3), RT(parts, 116, yy, 9))
add(T("Model", 287, 884, 10, "center"), T("AUC", 373, 883, 10, "center"), T("95%CI", 421, 883, 10, "center"))
for i, m in enumerate(auc_models):
    yy = 904 + 12 * i
    parts = dict(leg_items)[m]
    add(RL(235, yy, 243, yy, color=ROC_COL[m], w=1.3), RT(parts, 244, yy, 10))
    add(T(auc_values[i], 357, yy, 10), T(auc_ci[i], 396, yy, 10))

# ------------------------------------------------------------------ ASSEMBLE
chart = (alt.layer(*LAYERS)
         .resolve_scale(x="independent", y="independent", color="independent")
         .properties(width=W_TOT, height=H_TOT, padding=0)
         .configure(font=FONT)
         .configure_view(stroke=None)
         .configure_axis(grid=False, domainColor="black", tickColor="black", labelColor="black",
                         titleColor="black", labelFont=FONT, titleFont=FONT, labelFontSize=10,
                         titleFontSize=10.5, titleFontWeight="normal", tickSize=3.5, domainWidth=1,
                         tickWidth=1, labelFlush=False, labelOverlap=False, labelPadding=1.5))

chart.save("out.html", embed_options={"renderer": "svg", "actions": False})
